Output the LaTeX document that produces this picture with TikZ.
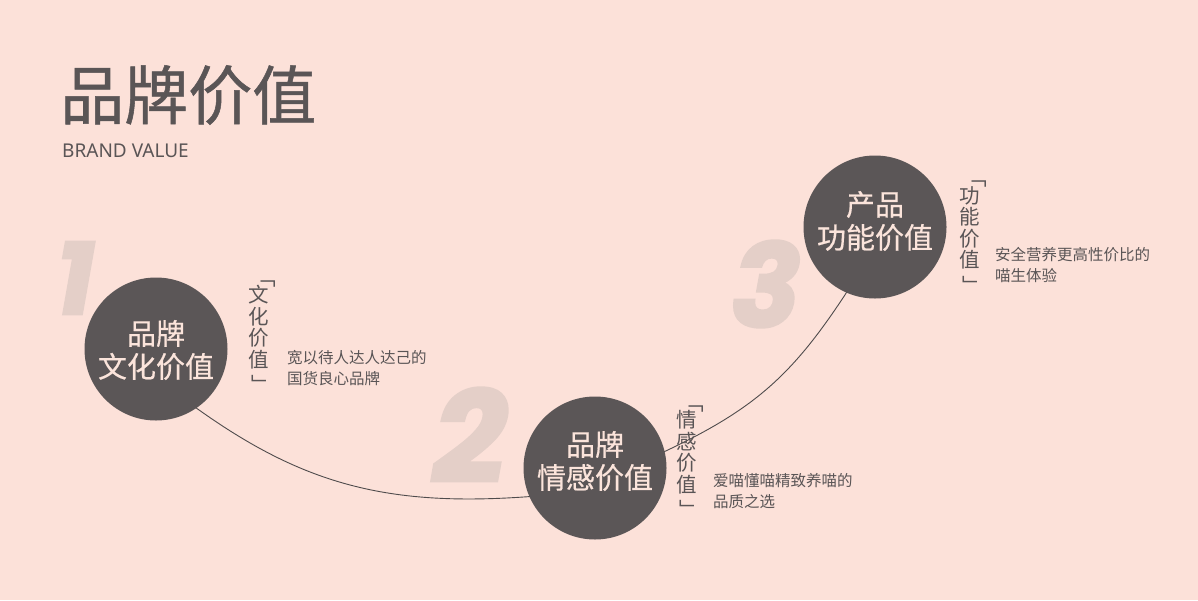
\documentclass[tikz,border=0pt]{standalone}
\usepackage{fontspec}
\setmainfont{Noto Sans}
\newfontfamily\cjk{Noto Sans CJK SC}
\newfontfamily\cjktitle{Noto Sans CJK SC}[FakeBold=0.8]
\newfontfamily\cjkmid{Noto Sans CJK SC}[FakeBold=0.5]
\newfontfamily\latinf{Noto Sans}
\newfontfamily\numf{Poppins}[FakeBold=2.5]
\definecolor{bgc}{HTML}{FCE1D9}
\definecolor{circ}{HTML}{5B5657}
\definecolor{circtxt}{HTML}{FBE4DB}
\definecolor{numc}{HTML}{E4CFC8}
\definecolor{txt}{HTML}{5A5556}
\definecolor{linec}{HTML}{4F4B4C}
\newcommand{\vopen}{\makebox[20pt][c]{\hspace*{14pt}﹁}}
\newcommand{\vclose}{\makebox[20pt][c]{\hspace*{5pt}﹂}}
\begin{document}
\begin{tikzpicture}[x=1pt,y=-1pt,
  bigcirc/.style={circle,fill=circ,minimum size=143pt,inner sep=0pt},
  circlabel/.style={inner sep=0pt,align=center,text=circtxt,font=\cjkmid\fontsize{29}{33}\selectfont},
  vlabel/.style={inner sep=0pt,align=center,text=txt,font=\cjk\fontsize{20.5}{21.5}\selectfont},
  desc/.style={inner sep=0pt,align=left,anchor=west,text=txt,font=\cjk\fontsize{15.5}{21}\selectfont},
  bignum/.style={inner sep=0pt,text=numc},
  conn/.style={draw=linec,line width=0.9pt}]
\fill[bgc] (0,0) rectangle (1198,600);
\useasboundingbox (0,0) rectangle (1198,600);

% title
\node[inner sep=0pt,anchor=west,text=txt,font=\cjktitle\fontsize{64}{64}\selectfont] (title) at (60,95) {品牌价值};
\node[inner sep=0pt,anchor=west,text=txt,font=\latinf\fontsize{19}{19}\selectfont] (subtitle) at (62,150.5) {BRAND VALUE};

% big numbers
\node[bignum,font=\numf\bfseries\itshape\fontsize{102}{102}\selectfont] (n1) at (75,278) {1};
\node[bignum,font=\numf\bfseries\itshape\fontsize{129}{129}\selectfont] (n2) at (470,435) {2};
\node[bignum,font=\numf\bfseries\itshape\fontsize{115}{115}\selectfont] (n3) at (766,284) {3};

% connector curve
\coordinate (a1) at (188,402);
\coordinate (a2) at (537,496);
\coordinate (b1) at (655,456);
\coordinate (b2) at (852,284);
\draw[conn] (a1) .. controls (301,485) and (387,508) .. (a2);
\draw[conn] (b1) .. controls (755,410) and (793,376) .. (b2);

% circles
\node[bigcirc] (c1) at (156,349) {};
\node[bigcirc] (c2) at (595,468) {};
\node[bigcirc] (c3) at (875,227) {};
\node[circlabel] (t1) at (156,350) {品牌\\文化价值};
\node[circlabel] (t2) at (595,461) {品牌\\情感价值};
\node[circlabel] (t3) at (875,221) {产品\\功能价值};

% vertical labels
\node[vlabel] (v1) at (259,336.5) {\vopen\\[-4pt]文\\化\\价\\值\\[4pt]\vclose};
\node[vlabel] (v2) at (687,461.5) {\vopen\\[-4pt]情\\感\\价\\值\\[4pt]\vclose};
\node[vlabel] (v3) at (970,237) {\vopen\\[-4pt]功\\能\\价\\值\\[4pt]\vclose};

% descriptions
\node[desc] (d1) at (287,368) {宽以待人达人达己的\\国货良心品牌};
\node[desc] (d2) at (713,491) {爱喵懂喵精致养喵的\\品质之选};
\node[desc] (d3) at (995,265) {安全营养更高性价比的\\喵生体验};
\end{tikzpicture}
\end{document}
